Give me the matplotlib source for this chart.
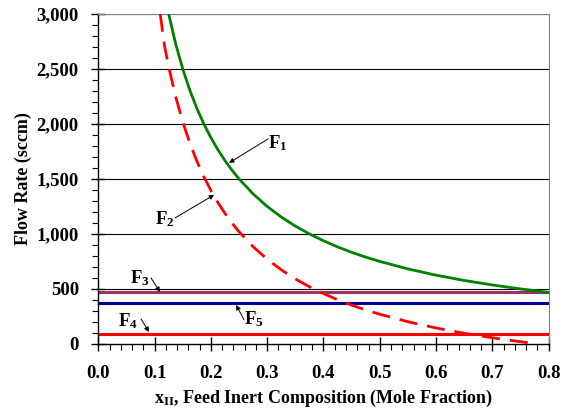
import matplotlib
matplotlib.use("Agg")
import matplotlib.pyplot as plt
from matplotlib.ticker import MultipleLocator, FuncFormatter

plt.rcParams['font.family'] = ['Liberation Serif', 'DejaVu Serif']
plt.rcParams['font.weight'] = 'bold'
plt.rcParams['mathtext.fontset'] = 'custom'
plt.rcParams['mathtext.rm'] = 'Liberation Serif:bold'
plt.rcParams['mathtext.it'] = 'Liberation Serif:bold'
plt.rcParams['mathtext.bf'] = 'Liberation Serif:bold'

# Data
f1_x = [0.125, 0.1375, 0.15, 0.1625, 0.175, 0.1875, 0.2, 0.2125, 0.225, 0.2375, 0.25,
        0.275, 0.3, 0.325, 0.35, 0.375, 0.4, 0.425, 0.45, 0.475, 0.5,
        0.55, 0.6, 0.65, 0.7, 0.75, 0.8]
f1_y = [3000, 2727, 2500, 2308, 2143, 2000, 1875, 1765, 1667, 1579, 1500,
        1364, 1250, 1154, 1071, 1000, 938, 882, 833, 789, 750,
        682, 625, 577, 536, 500, 469]
f2_x = [0.11, 0.1175, 0.125, 0.1375, 0.15, 0.1625, 0.175, 0.1875, 0.2, 0.2125, 0.225,
        0.2375, 0.25, 0.275, 0.3, 0.325, 0.35, 0.375, 0.4, 0.425, 0.45, 0.475, 0.5,
        0.55, 0.6, 0.65, 0.7, 0.75, 0.78]
f2_y = [3000, 2715, 2520, 2247, 2020, 1828, 1663, 1520, 1395, 1285, 1187,
        1099, 1020, 884, 770, 674, 591, 520, 458, 402, 353, 309, 270,
        202, 145, 97, 56, 20, 0]
f3 = 468
f4 = 94
f5 = 374
x_range = [0.0, 0.8]

fig = plt.figure(figsize=(5.68, 4.08), dpi=100)
ax = fig.add_axes([0.173, 0.157, 0.793, 0.809])

ax.set_xlim(0, 0.8)
ax.set_ylim(0, 3000)

for yv in range(500, 3001, 500):
    ax.axhline(yv, color='black', lw=0.8, zorder=1)

ax.plot(x_range, [f3, f3], color='#993366', lw=2.2, zorder=2, solid_capstyle='butt')
ax.plot(x_range, [f5, f5], color='#000099', lw=2.2, zorder=2, solid_capstyle='butt')
ax.plot(x_range, [f4, f4], color='#ff0000', lw=2.2, zorder=2, solid_capstyle='butt')
ax.plot(f2_x, f2_y, color='#ff0000', lw=2.0, dashes=(6.5, 3.6), zorder=3)
ax.plot(f1_x, f1_y, color='#008000', lw=2.0, zorder=4)

ax.xaxis.set_major_locator(MultipleLocator(0.1))
ax.xaxis.set_minor_locator(MultipleLocator(0.02))
ax.yaxis.set_major_locator(MultipleLocator(500))
ax.yaxis.set_minor_locator(MultipleLocator(100))
ax.xaxis.set_major_formatter(FuncFormatter(lambda v, p: f"{v:.1f}"))
ax.yaxis.set_major_formatter(FuncFormatter(lambda v, p: f"{int(round(v)):,}"))

ax.tick_params(axis='both', which='major', direction='inout', length=10, width=1.0,
               labelsize=13.5, colors='black')
ax.tick_params(axis='both', which='minor', direction='out', length=4, width=0.8)
ax.tick_params(axis='y', which='major', pad=9)
ax.tick_params(axis='x', which='major', pad=10)
ax.tick_params(top=False, right=False, which='both')
for lbl in ax.get_xticklabels() + ax.get_yticklabels():
    lbl.set_fontweight('bold')

ax.spines['top'].set_color('#808080')
ax.spines['right'].set_color('#808080')
ax.spines['left'].set_linewidth(1.0)
ax.spines['bottom'].set_linewidth(1.0)

ax.set_ylabel('Flow Rate (sccm)', fontsize=13, fontweight='bold')
ax.set_xlabel(r'x$_{\mathregular{II}}$, Feed Inert Composition (Mole Fraction)',
              fontsize=13, fontweight='bold')
ax.yaxis.set_label_coords(-0.167, 0.5)
ax.xaxis.set_label_coords(0.5, -0.164)
ax.xaxis.label.set_va('center')
ax.yaxis.label.set_va('center')

def px2d(px, py):
    return ((px - 98.3) / 562.5, (344 - py) / 0.11)

arrowprops = dict(arrowstyle='-|>', color='black', lw=0.7, mutation_scale=7,
                  shrinkA=0, shrinkB=0)
labels = [
    (r'F$_{\mathregular{1}}$', (278, 143), (268, 139), (229, 163)),
    (r'F$_{\mathregular{2}}$', (165, 219), (175, 218), (214, 195)),
    (r'F$_{\mathregular{3}}$', (140, 278), (151, 278), (160, 292)),
    (r'F$_{\mathregular{4}}$', (128, 321), (141, 319), (149, 332)),
    (r'F$_{\mathregular{5}}$', (254, 319), (244, 320), (236, 305)),
]
for txt, tpos, tail, head in labels:
    ax.text(*px2d(*tpos), txt, fontsize=13.5, fontweight='bold', ha='center', va='center', zorder=6)
    ax.annotate('', xy=px2d(*head), xytext=px2d(*tail), arrowprops=arrowprops, zorder=6)

fig.savefig('out.png', dpi=100)
